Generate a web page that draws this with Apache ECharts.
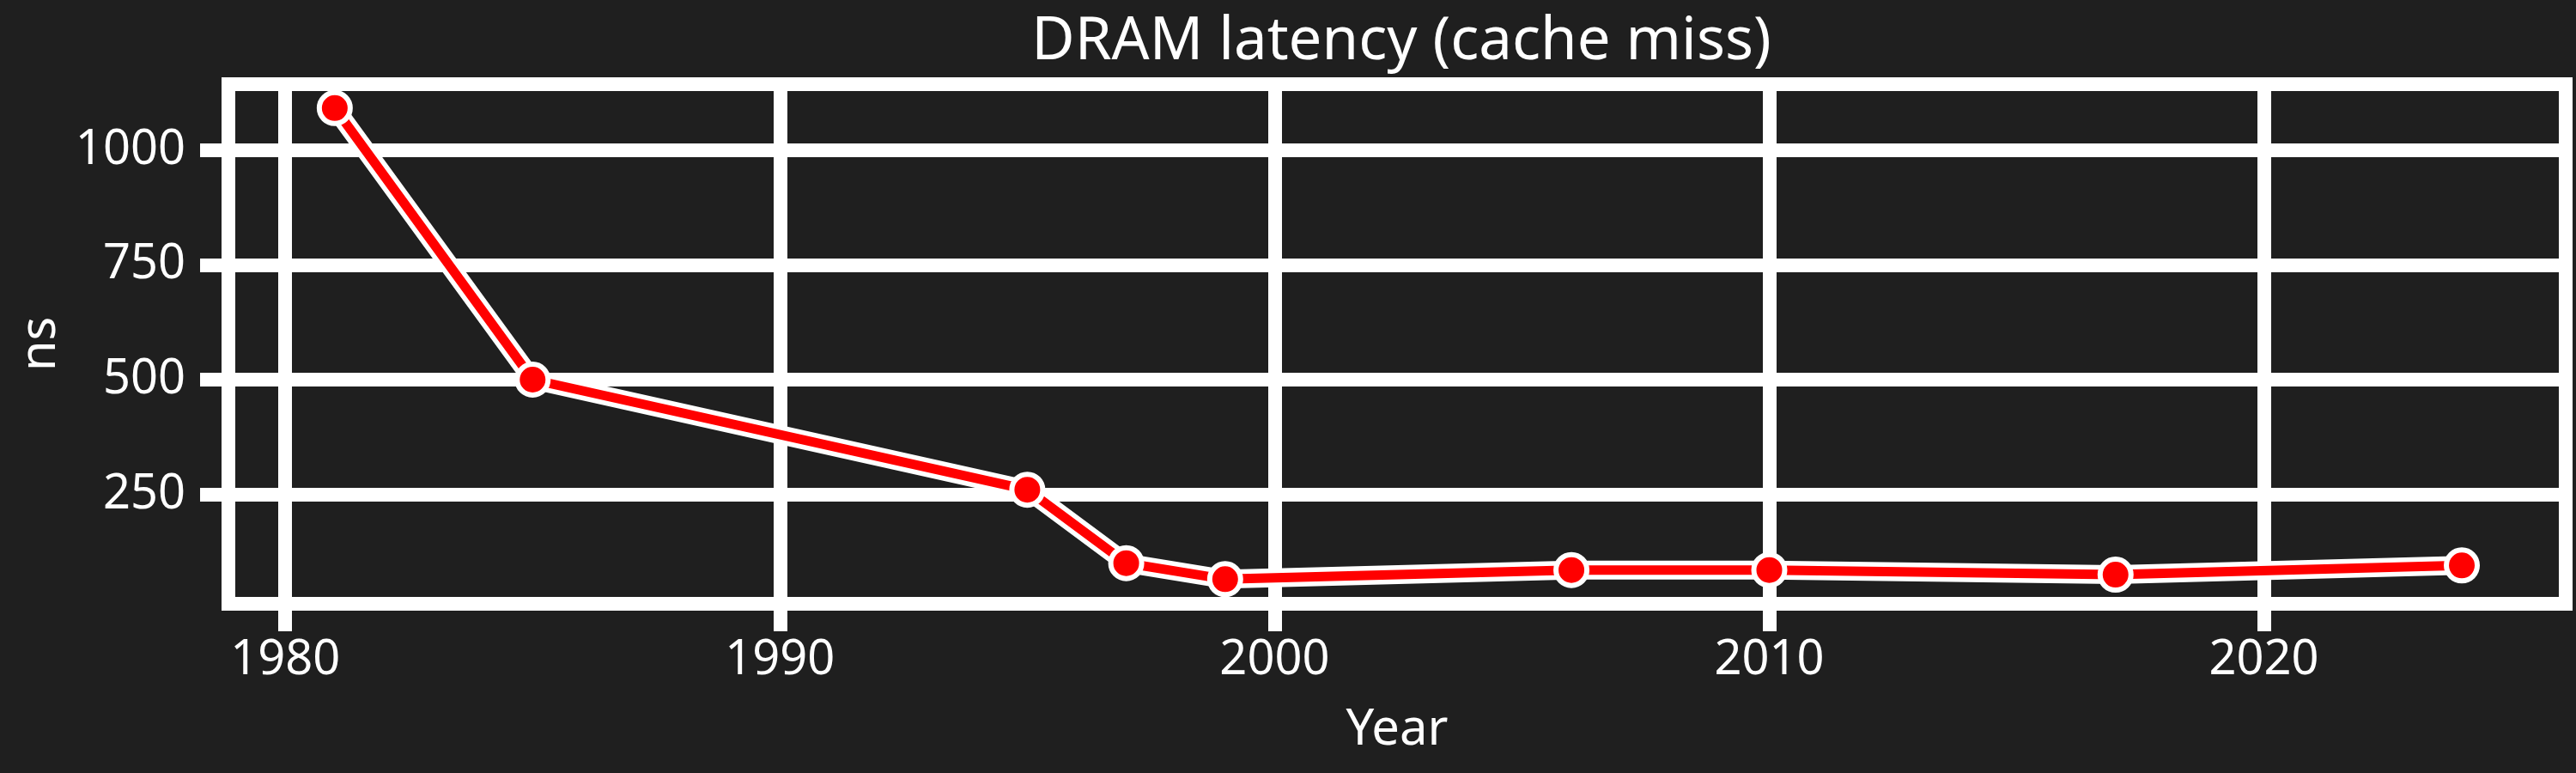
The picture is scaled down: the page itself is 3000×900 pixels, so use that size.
<!DOCTYPE html>
<html>
<head>
<meta charset="utf-8">
<script src="https://cdn.jsdelivr.net/npm/echarts@6/dist/echarts.min.js"></script>
<style>
html,body{margin:0;padding:0;background:#1f1f1f;}
#chart{width:3000px;height:900px;}
</style>
</head>
<body>
<div id="chart"></div>
<script>
const titleText = 'DRAM latency (cache miss)';
const xName = 'Year';
const yName = 'ns';
const years = [1981, 1985, 1995, 1997, 1999, 2006, 2010, 2017, 2024];
const latency = [1092, 500, 260, 100, 65, 85, 85, 75, 95];
const xTicks = [1980, 1990, 2000, 2010, 2020];
const yTicks = [250, 500, 750, 1000];

const FONT = 'Noto Sans';
const points = years.map((y, i) => [y, latency[i]]);
const gridMarks = yTicks.map(v => ({yAxis: v})).concat(xTicks.map(v => ({xAxis: v})));

const chart = echarts.init(document.getElementById('chart'), null, {renderer: 'canvas'});
chart.setOption({
  backgroundColor: '#1f1f1f',
  animation: false,
  textStyle: {fontFamily: FONT, color: '#fff'},
  title: {
    text: titleText,
    left: 1627,
    textAlign: 'center',
    top: 10,
    textStyle: {fontFamily: FONT, fontSize: 69, fontWeight: 'normal', color: '#fff'}
  },
  grid: {
    left: 266, right: 12, top: 98, bottom: 197,
    show: true, borderColor: '#fff', borderWidth: 16, backgroundColor: 'transparent',
    containLabel: false, outerBoundsMode: 'none'
  },
  xAxis: {
    type: 'value', min: 1978.85, max: 2026.1,
    name: xName, nameLocation: 'middle', nameGap: 118,
    nameTextStyle: {fontFamily: FONT, fontSize: 58, color: '#fff'},
    axisLine: {show: false},
    axisTick: {show: true, customValues: xTicks, length: 32, lineStyle: {color: '#fff', width: 16}},
    axisLabel: {show: true, customValues: xTicks, margin: 38, fontFamily: FONT, fontSize: 56, color: '#fff',
      formatter: v => String(Math.round(v))},
    splitLine: {show: false}
  },
  yAxis: {
    type: 'value', min: 11.4, max: 1144,
    name: yName, nameLocation: 'middle', nameGap: 190, nameRotate: 90,
    nameTextStyle: {fontFamily: FONT, fontSize: 58, color: '#fff'},
    axisLine: {show: false},
    axisTick: {show: true, customValues: yTicks, length: 33, lineStyle: {color: '#fff', width: 16}},
    axisLabel: {show: true, customValues: yTicks, margin: 50, fontFamily: FONT, fontSize: 56, color: '#fff',
      formatter: v => String(Math.round(v))},
    splitLine: {show: false}
  },
  series: [
    {
      type: 'line', data: points, z: 2, silent: true,
      symbol: 'none',
      lineStyle: {color: '#fff', width: 22, cap: 'round', join: 'round'},
      markLine: {
        silent: true, symbol: 'none', animation: false, z: 1,
        label: {show: false},
        lineStyle: {color: '#fff', width: 16, type: 'solid'},
        emphasis: {disabled: true},
        data: gridMarks
      }
    },
    {
      type: 'line', data: points, z: 4,
      symbol: 'circle', symbolSize: 36, showAllSymbol: true,
      lineStyle: {color: '#ff0000', width: 11, cap: 'round', join: 'round'},
      itemStyle: {color: '#ff0000', borderColor: '#fff', borderWidth: 6}
    }
  ]
});
</script>
</body>
</html>
